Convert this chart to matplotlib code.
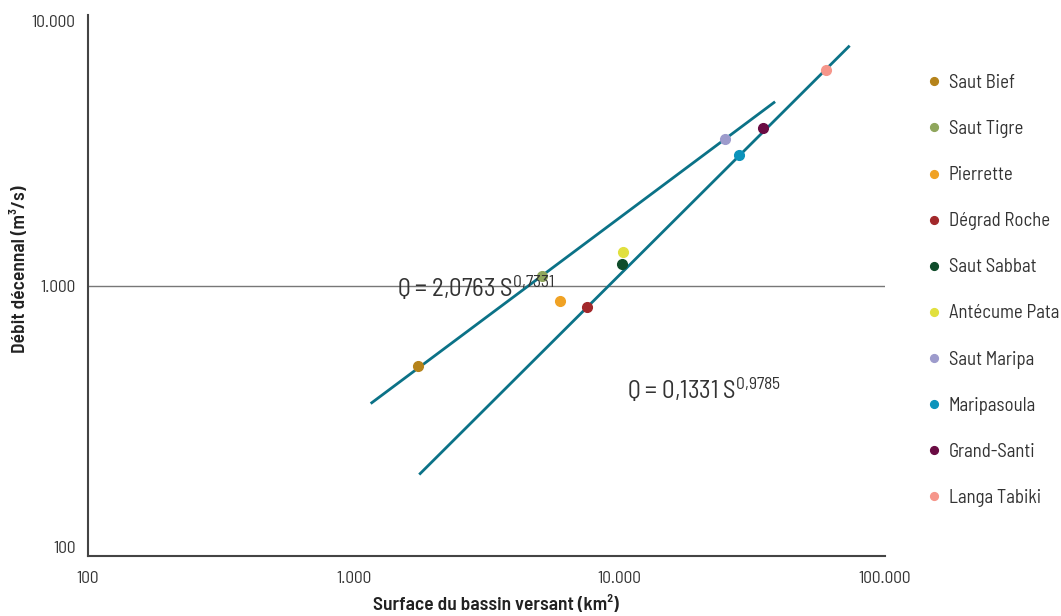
import numpy as np
import matplotlib
matplotlib.use("Agg")
import matplotlib.pyplot as plt
from matplotlib.ticker import FixedLocator, FuncFormatter

plt.rcParams['font.family'] = ['Barlow Semi Condensed', 'Roboto Condensed', 'DejaVu Sans']
plt.rcParams['mathtext.default'] = 'regular'

# Stations (surface km2, debit m3/s)
stations = ['Saut Bief', 'Saut Tigre', 'Pierrette', 'Dégrad Roche', 'Saut Sabbat',
            'Antécume Pata', 'Saut Maripa', 'Maripasoula', 'Grand-Santi', 'Langa Tabiki']
surface = [1750, 5100, 6000, 7550, 10200, 10300, 25000, 28200, 34800, 60000]
debit = [505, 1085, 877, 832, 1200, 1330, 3480, 3035, 3820, 6270]
couleurs = ['#b5831a', '#8fa65c', '#f0a224', '#a2282b', '#0f4c2a',
            '#e1e03e', '#9d9bcc', '#0c93bb', '#6a0b43', '#f6968b']

# Regressions Q = a S^b
coef_a = [2.0763, 0.1331]
coef_b = [0.7331, 0.9785]
x_deb = [1170, 1780]
x_fin = [38200, 73000]
eq_txt = ['Q = 2,0763 S$^{0{,}7331}$', 'Q = 0,1331 S$^{0{,}9785}$']
eq_pos = [(1460, 985), (10690, 412)]

fig = plt.figure(figsize=(10.61, 6.16), dpi=100)
ax = fig.add_axes([88/1061, 60/616, 797/1061, 541/616])

for a, b, x0, x1 in zip(coef_a, coef_b, x_deb, x_fin):
    xs = np.array([x0, x1])
    ax.plot(xs, a * xs**b, color='#0b7287', lw=2, zorder=2)

ax.axhline(1000, color='#777777', lw=1, zorder=1)

for s, q, c, n in zip(surface, debit, couleurs, stations):
    ax.plot(s, q, 'o', color=c, ms=7, label=n, zorder=3, ls='none')

for t, (xp, yp) in zip(eq_txt, eq_pos):
    ax.text(xp, yp, t, fontsize=18, color='#333333', va='center', ha='left')

ax.set_xscale('log')
ax.set_yscale('log')
ax.set_xlim(100, 100000)
ax.set_ylim(100, 10000)
ax.xaxis.set_major_locator(FixedLocator([100, 1000, 10000, 100000]))
ax.yaxis.set_major_locator(FixedLocator([100, 1000, 10000]))
ax.xaxis.set_minor_locator(FixedLocator([]))
ax.yaxis.set_minor_locator(FixedLocator([]))
fmt = FuncFormatter(lambda v, p: f'{int(round(v)):,}'.replace(',', '.'))
ax.xaxis.set_major_formatter(fmt)
ax.yaxis.set_major_formatter(fmt)
ax.tick_params(length=0, labelsize=12.5, colors='#333333')
ax.tick_params(axis='x', pad=11)
ax.tick_params(axis='y', pad=9)
yticks = ax.yaxis.get_major_ticks()
yticks[0].label1.set_va('bottom')
yticks[-1].label1.set_va('top')
for side in ['top', 'right']:
    ax.spines[side].set_visible(False)
for side in ['left', 'bottom']:
    ax.spines[side].set_color('#444444')
    ax.spines[side].set_linewidth(1.5)

ax.set_xlabel('Surface du bassin versant (km²)', fontsize=14, fontweight='semibold',
              color='#222222')
ax.set_ylabel('Débit décennal (m³/s)', fontsize=14, fontweight='semibold',
              color='#222222')
ax.xaxis.set_label_coords(0.512, -0.074)
ax.yaxis.set_label_coords(-0.074, 0.53)

fig.legend(loc='upper left', bbox_to_anchor=(906/1061, 1 - 57/616), frameon=False,
           fontsize=13.5, labelspacing=1.5, handletextpad=0.17, handlelength=1.2,
           markerscale=0.8, labelcolor='#333333')

fig.savefig('out.png', dpi=100)
